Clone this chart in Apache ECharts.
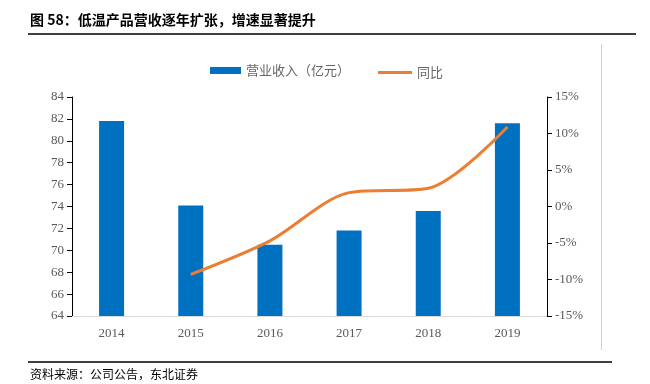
<!DOCTYPE html>
<html><head><meta charset="utf-8">
<script src="https://cdn.jsdelivr.net/npm/echarts@6/dist/echarts.min.js"></script>
<style>html,body{margin:0;padding:0;background:#fff}#c{width:650px;height:384px}</style>
</head><body><div id="c"></div>
<script>
var years = ['2014','2015','2016','2017','2018','2019'];
var revenue = [81.8, 74.1, 70.5, 71.8, 73.6, 81.6];
var yoy = [null, -9.3, -4.7, 1.9, 2.5, 10.9];
var leftTicks = [64, 84, 2];
var rightTicks = [-15, 15, 5];

var chart = echarts.init(document.getElementById('c'));
var serif = '"Liberation Serif","Times New Roman",serif';
var cjk = '"Noto Sans CJK SC",sans-serif';
chart.setOption({
  animation: false,
  grid: {left: 72, right: 103, top: 97, bottom: 68},
  legend: [
    {top: 59, left: 205, itemWidth: 31, itemHeight: 7, itemGap: 4,
     textStyle: {fontFamily: cjk, fontSize: 13, color: '#666666'},
     data: [{name: '营业收入（亿元）', icon: 'rect'}]},
    {top: 61, left: 373, itemWidth: 34, itemHeight: 3, itemGap: 4,
     textStyle: {fontFamily: cjk, fontSize: 13, color: '#666666', padding: [1, 0, 0, 0]},
     data: [{name: '同比', icon: 'rect', itemStyle: {color: '#ED7D31'}}]}
  ],
  graphic: [
    {type: 'text', left: 30, top: 13, style: {text: '图 58：低温产品营收逐年扩张，增速显著提升', font: 'bold 14px "Noto Sans CJK SC", sans-serif', fill: '#000'}},
    {type: 'rect', shape: {x: 28, y: 33, width: 608, height: 2}, style: {fill: '#404040'}},
    {type: 'rect', shape: {x: 601, y: 44, width: 1, height: 306}, style: {fill: '#d0d0d0'}},
    {type: 'rect', shape: {x: 28, y: 361, width: 584, height: 2}, style: {fill: '#404040'}},
    {type: 'text', left: 30, top: 368, style: {text: '资料来源：公司公告，东北证券', font: '12px "Noto Sans CJK SC", sans-serif', fill: '#000'}}
  ],
  xAxis: {
    type: 'category', data: years,
    axisLine: {onZero: false, lineStyle: {color: '#d9d9d9'}},
    axisTick: {show: false},
    axisLabel: {color: '#595959', fontFamily: serif, fontSize: 13, margin: 11}
  },
  yAxis: [
    {type: 'value', min: leftTicks[0], max: leftTicks[1], interval: leftTicks[2],
     axisLine: {show: true, lineStyle: {color: '#000'}},
     axisTick: {show: true, length: 5, lineStyle: {color: '#000'}},
     splitLine: {show: false},
     axisLabel: {color: '#595959', fontFamily: serif, fontSize: 13, margin: 8}},
    {type: 'value', min: rightTicks[0], max: rightTicks[1], interval: rightTicks[2],
     axisLine: {show: true, lineStyle: {color: '#000'}},
     axisTick: {show: true, length: 5, lineStyle: {color: '#000'}},
     splitLine: {show: false},
     axisLabel: {color: '#595959', fontFamily: serif, fontSize: 13, margin: 8, formatter: '{value}%'}}
  ],
  series: [
    {name: '营业收入（亿元）', type: 'bar', data: revenue, barWidth: 25,
     itemStyle: {color: '#0070C0'}},
    {name: '同比', type: 'line', yAxisIndex: 1, data: yoy, smooth: 0.3,
     showSymbol: false, symbol: 'none', lineStyle: {color: '#ED7D31', width: 3},
     itemStyle: {color: '#ED7D31'}}
  ]
});
</script></body></html>
